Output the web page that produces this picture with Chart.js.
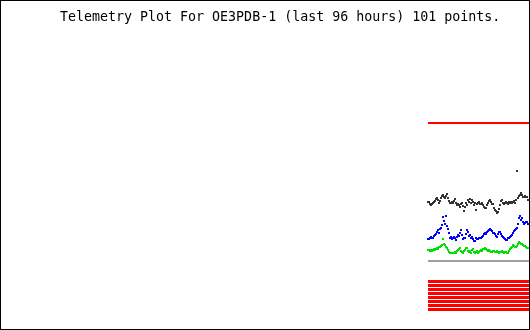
<!DOCTYPE html>
<html>
<head>
<meta charset="utf-8">
<script src="https://cdn.jsdelivr.net/npm/chart.js@4"></script>
<style>
  body { margin: 0; background: #fff; }
  #c { display: block; }
</style>
</head>
<body>
<canvas id="c" width="530" height="330"></canvas>
<script>
// values are read as plot rows (0 = top of plot, 330 = bottom), one per point
const titleText = 'Telemetry Plot For OE3PDB-1 (last 96 hours) 101 points.';
const pointCount = 101;

const channel1 = [ // black
  202, 202, 204, 205, 204, 203, 202, 201, 199, 198, 200, 203, 201, 198, 196, 195, 197, 198, 196, 194,
  198, 201, 203, 203, 202, 203, 201, 199, 203, 205, 204, 205, 207, 204, 203, 206, 211, 207, 203, 205,
  200, 202, 199, 203, 200, 202, 205, 203, 210, 204, 203, 202, 204, 204, 203, 205, 207, 208, 208, 205,
  203, 201, 200, 202, 204, 204, 208, 210, 211, 213, 212, 209, 205, 201, 200, 203, 204, 203, 202, 203,
  204, 202, 203, 202, 203, 202, 201, 203, 200, 171, 198, 196, 195, 193, 195, 197, 197, 196, 197, 197,
  200
];
const channel2 = [ // blue
  239, 239, 238, 237, 238, 238, 236, 235, 234, 232, 230, 233, 229, 228, 225, 217, 221, 224, 216, 226,
  229, 233, 238, 237, 239, 238, 237, 238, 240, 237, 235, 236, 233, 230, 235, 239, 238, 238, 234, 230,
  232, 236, 235, 238, 237, 239, 241, 241, 238, 239, 239, 238, 238, 238, 237, 236, 234, 233, 234, 232,
  231, 230, 229, 230, 231, 233, 233, 234, 236, 237, 234, 232, 232, 234, 236, 237, 238, 239, 240, 240,
  238, 238, 237, 236, 235, 233, 231, 230, 229, 228, 224, 218, 216, 220, 218, 222, 224, 223, 222, 222,
  224
];
const channel3 = [ // green
  250, 250, 251, 250, 251, 250, 249, 250, 249, 248, 249, 247, 247, 246, 245, 239, 244, 245, 247, 248,
  250, 252, 253, 253, 253, 253, 253, 252, 253, 251, 250, 249, 248, 251, 252, 253, 251, 250, 248, 248,
  251, 252, 251, 253, 250, 249, 252, 253, 252, 251, 253, 252, 251, 250, 251, 249, 249, 248, 249, 250,
  251, 250, 251, 252, 252, 251, 251, 252, 252, 251, 252, 253, 252, 252, 251, 252, 253, 252, 252, 253,
  253, 251, 249, 248, 247, 245, 246, 247, 247, 246, 244, 242, 243, 244, 244, 245, 246, 246, 247, 248,
  248
];
const channel4 = 123; // red, constant
const channel5 = 261; // grey, constant
const bitRows = [281.5, 285.5, 289.5, 293.5, 297.5, 301.5, 305.5, 309.5]; // 8 digital bits, all set

function series(vals) {
  return vals.map((v, i) => ({ x: i, y: v }));
}
function flat(v) {
  return [{ x: 0, y: v }, { x: pointCount + 2, y: v }];
}

const dotted = (vals, color) => ({
  data: series(vals),
  showLine: false,
  pointStyle: 'rect',
  pointRadius: Math.SQRT2,
  pointBorderWidth: 0,
  pointBackgroundColor: color,
  pointBorderColor: color
});
const level = (v, color, w) => ({
  data: flat(v),
  showLine: true,
  borderColor: color,
  borderWidth: w,
  pointRadius: 0
});

const datasets = [
  level(channel4, '#ff0000', 2),
  dotted(channel1, '#333333'),
  dotted(channel2, '#0000ff'),
  dotted(channel3, '#00e000'),
  level(channel5, '#a0a0a0', 2)
];
bitRows.forEach(r => datasets.push(level(r, '#ff0000', 3)));

const frame = {
  id: 'frame',
  afterDraw(chart) {
    const ctx = chart.ctx;
    ctx.save();
    ctx.fillStyle = '#000';
    ctx.font = "13.3px 'DejaVu Sans Mono', monospace";
    ctx.textBaseline = 'alphabetic';
    ctx.fillText(titleText, 60, 21);
    ctx.strokeStyle = '#000';
    ctx.lineWidth = 1;
    ctx.strokeRect(0.5, 0.5, 529, 329);
    ctx.restore();
  }
};

new Chart(document.getElementById('c'), {
  type: 'scatter',
  data: { datasets: datasets },
  options: {
    responsive: false,
    animation: false,
    layout: { padding: 0, autoPadding: false },
    plugins: { legend: { display: false }, tooltip: { enabled: false }, title: { display: false } },
    scales: {
      x: { type: 'linear', display: false, min: -428, max: 102 },
      y: { type: 'linear', display: false, min: 0, max: 330, reverse: true }
    }
  },
  plugins: [frame]
});
</script>
</body>
</html>
